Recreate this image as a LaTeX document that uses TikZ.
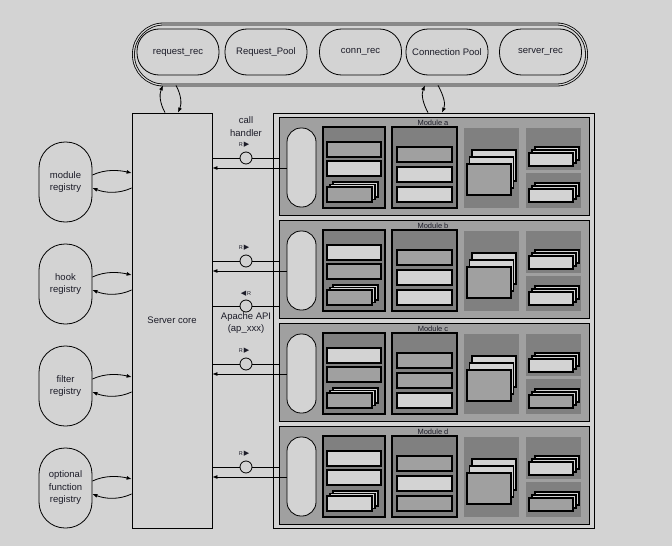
\documentclass[tikz,border=0pt]{standalone}
\usepackage{fontspec}
\setmainfont{Liberation Sans}
\newfontfamily\symfont{DejaVu Sans}
\usetikzlibrary{arrows.meta,calc}
\definecolor{bg}{HTML}{D3D3D3}
\definecolor{midg}{HTML}{A0A0A0}
\definecolor{darkg}{HTML}{808080}
\definecolor{lightg}{HTML}{D3D3D3}
\definecolor{txt}{HTML}{1C1C28}
\begin{document}
\begin{tikzpicture}[x=1pt,y=-1pt,line width=0.8pt,
  >={Latex[length=5pt,width=4pt]},
  font=\fontsize{9.5}{11}\selectfont, text=txt,
  toppill/.style={draw,rounded corners=22pt,minimum width=82pt,minimum height=46pt,inner sep=0pt},
  regpill/.style={draw,rounded corners=26pt,minimum width=53pt,minimum height=80pt,inner sep=0pt,align=center,font=\fontsize{9.5}{12.5}\selectfont},
  modbox/.style={draw,fill=midg,minimum width=310pt,minimum height=98pt,inner sep=0pt},
  modpill/.style={draw,fill=lightg,rounded corners=14pt,minimum width=29pt,minimum height=79pt,inner sep=0pt},
  ifc/.style={draw,fill=bg,circle,minimum size=12pt,inner sep=0pt},
  rlab/.style={font=\fontsize{5.5}{6}\selectfont,inner sep=0pt},
  modlab/.style={font=\fontsize{7.5}{8}\selectfont,inner sep=0pt},
  ibox/.style={line width=1.1pt}
]
\fill[bg] (0,0) rectangle (672,546);
\useasboundingbox (0,0) rectangle (672,546);

% top container
\node[draw,double=bg,double distance=1.2pt,rounded corners=30pt,minimum width=453pt,minimum height=61pt,inner sep=0pt] (top) at (360,54.5) {};
\node[toppill] (reqrec) at (178,52) {request\_rec};
\node[toppill] (reqpool) at (266,52) {Request\_Pool};
\node[toppill] (connrec) at (360.5,52) {conn\_rec};
\node[toppill] (connpool) at (447,52) {Connection Pool};
\node[toppill] (srvrec) at (540.5,52) {server\_rec};

% server core
\node[draw,fill=bg,minimum width=80pt,minimum height=415pt,inner sep=0pt] (core) at (172,320.5) {Server core};
% module container
\node[draw,fill=bg,minimum width=321pt,minimum height=415pt,inner sep=0pt] (mods) at (433.5,320.5) {};

% arrows core <-> top
\draw[->] ([xshift=-7pt]core.north) .. controls +(-5,-9) and +(-4,9) .. ([xshift=-197pt]top.south);
\draw[->] ([xshift=-184pt]top.south) .. controls +(5,9) and +(4,-9) .. ([xshift=6pt]core.north);
\draw[->] ([xshift=-5.5pt]mods.north) .. controls +(-5,-9) and +(-4,9) .. ([xshift=65pt]top.south);
\draw[->] ([xshift=78pt]top.south) .. controls +(5,9) and +(4,-9) .. ([xshift=8.5pt]mods.north);

% registries
\node[regpill] (reg1) at (65.5,182) {module\\registry};
\node[regpill] (reg2) at (65.5,284) {hook\\registry};
\node[regpill] (reg3) at (65.5,386) {filter\\registry};
\node[regpill] (reg4) at (65.5,488) {optional\\function\\registry};
\foreach \r in {reg1,reg2,reg3,reg4}{
  \draw[->] ($(\r.east)+(0,-7)$) .. controls +(13,-6) and +(-13,-3) .. ($(\r.east -| core.west)+(0,-9)$);
  \draw[->] ($(\r.east -| core.west)+(0,6)$) .. controls +(-13,6) and +(13,5) .. ($(\r.east)+(0,6)$);
}

% interface labels
\node[align=center,font=\fontsize{9.5}{13}\selectfont] (callh) at (246,126.5) {call\\handler};
\node[align=center,font=\fontsize{9.5}{12}\selectfont] (apapi) at (246,323) {Apache API\\(ap\_xxx)};
\node[ifc] (capi) at (246,306) {};
\node[rlab] (rapi) at (246,294) {{\symfont\fontsize{7}{7}\selectfont ◀}\,R};
\draw (core.east |- capi) -- (capi) -- ($(capi)+(33,0)$);

% modules
\foreach \T/\m/\ca/\cb/\cc/\da/\db/\dc/\ea/\eb in {
117/a/midg/lightg/midg/midg/lightg/lightg/lightg/lightg,
220/b/lightg/midg/midg/midg/lightg/lightg/lightg/lightg,
323/c/lightg/midg/midg/midg/midg/lightg/lightg/midg,
426/d/lightg/lightg/lightg/midg/lightg/midg/lightg/midg}{
  \node[modbox] (mod\m) at (434,{\T+49}) {};
  \node[modlab] (lab\m) at (433,{\T+5.5}) {Module \m};
  \node[modpill] (pill\m) at (301.5,{\T+50.5}) {};
  % col1
  \draw[ibox,fill=darkg] (323,{\T+10}) rectangle (385,{\T+91});
  \draw[ibox,fill=\ca] (327,{\T+25}) rectangle (381,{\T+40});
  \draw[ibox,fill=\cb] (327,{\T+44}) rectangle (381,{\T+59});
  \draw[ibox,fill=lightg] (333,{\T+65}) rectangle (378,{\T+80});
  \draw[ibox,fill=lightg] (330,{\T+67.5}) rectangle (375,{\T+82.5});
  \draw[ibox,fill=\cc] (327,{\T+70}) rectangle (372,{\T+85});
  % col2
  \draw[ibox,fill=darkg] (392,{\T+10}) rectangle (457,{\T+91});
  \draw[ibox,fill=\da] (397,{\T+30}) rectangle (452,{\T+45});
  \draw[ibox,fill=\db] (397,{\T+50}) rectangle (452,{\T+65});
  \draw[ibox,fill=\dc] (397,{\T+70}) rectangle (452,{\T+85});
  % col3
  \fill[darkg] (464,{\T+11}) rectangle (519,{\T+91});
  \draw[ibox,fill=lightg] (472,{\T+33}) rectangle (516,{\T+64});
  \draw[ibox,fill=lightg] (469.5,{\T+40}) rectangle (513.5,{\T+71});
  \draw[ibox,fill=midg] (467,{\T+47}) rectangle (511,{\T+78});
  % col4
  \fill[darkg] (526,{\T+11}) rectangle (581,{\T+53});
  \fill[darkg] (526,{\T+56}) rectangle (581,{\T+91});
  \draw[ibox,fill=lightg] (535,{\T+30}) rectangle (579,{\T+43});
  \draw[ibox,fill=lightg] (532,{\T+33}) rectangle (576,{\T+46});
  \draw[ibox,fill=\ea] (529,{\T+36}) rectangle (573,{\T+49});
  \draw[ibox,fill=lightg] (535,{\T+66}) rectangle (579,{\T+79});
  \draw[ibox,fill=lightg] (532,{\T+69}) rectangle (576,{\T+82});
  \draw[ibox,fill=\eb] (529,{\T+72}) rectangle (573,{\T+85});
  % interface
  \node[ifc] (c\m) at (246,{\T+41}) {};
  \node[rlab] (rl\m) at (244,{\T+28}) {R\,{\symfont\fontsize{7}{7}\selectfont ▶}};
  \coordinate (ret\m) at (250,{\T+51});
  \draw (core.east |- c\m) -- (c\m) -- (mod\m.west |- c\m);
  \draw[->] (pill\m.west |- ret\m) -- (core.east |- ret\m);
}
\end{tikzpicture}
\end{document}
